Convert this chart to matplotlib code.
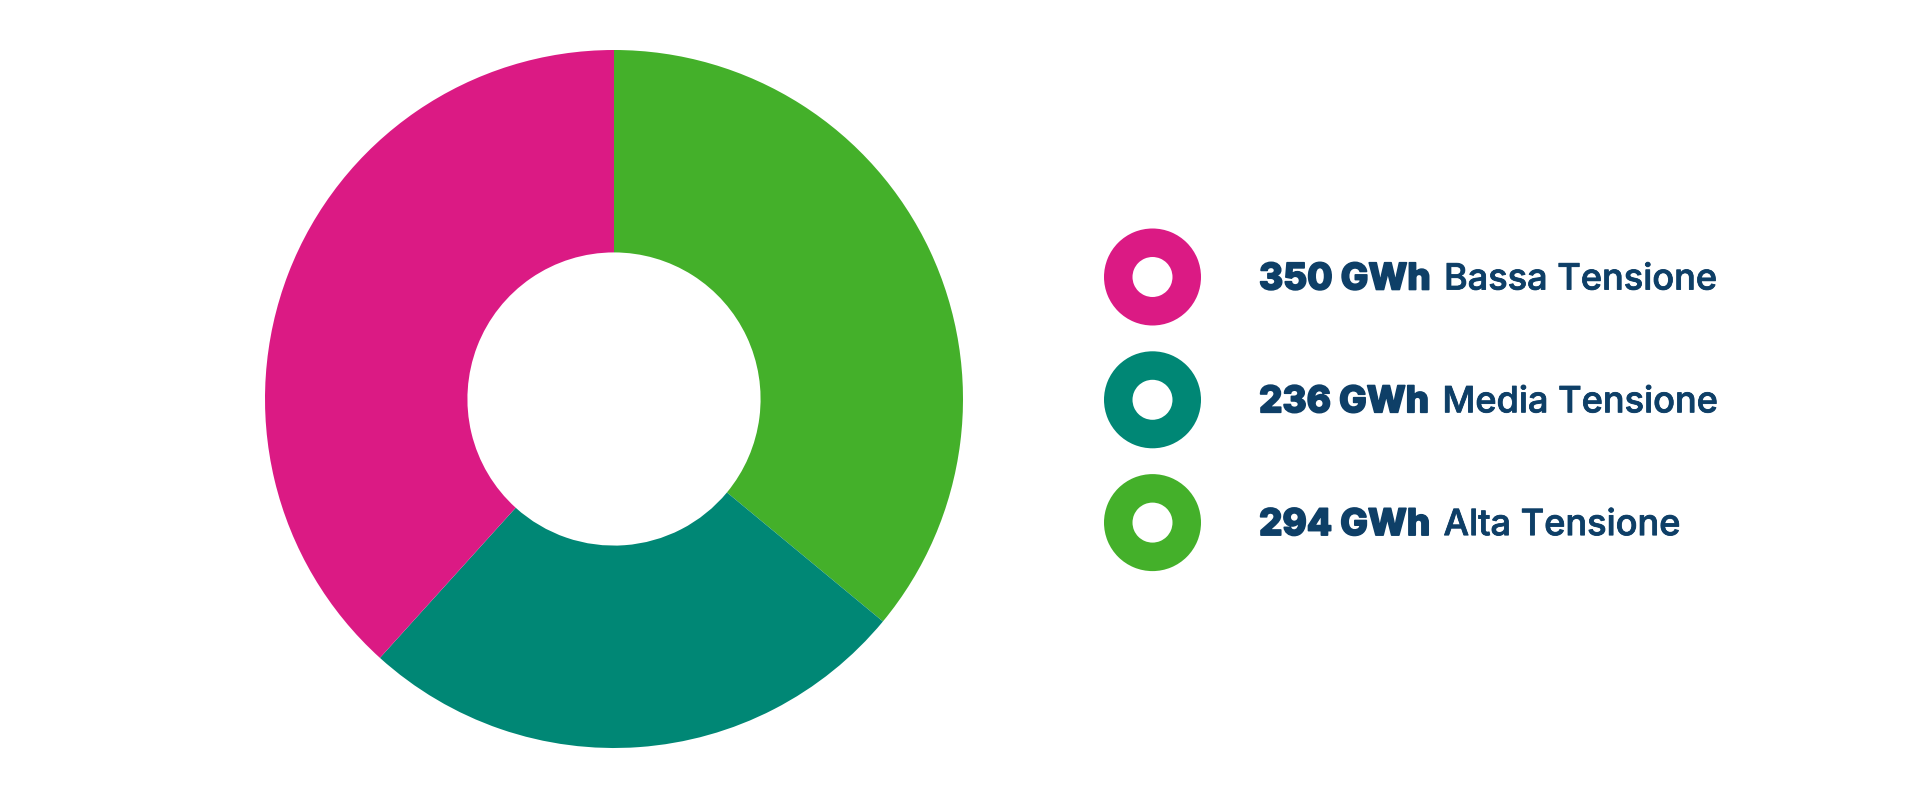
import matplotlib.pyplot as plt
import matplotlib.patheffects as pe
from matplotlib.patches import Annulus

# slice shares as drawn in the picture (percent), clockwise from top
labels = ['Alta Tensione', 'Media Tensione', 'Bassa Tensione']
shares = [36.0, 25.7, 38.3]
colors = ['#44b02a', '#008775', '#db1a84']

# legend rows, top to bottom
legend_values = ['350', '236', '294']
legend_labels = ['Bassa Tensione', 'Media Tensione', 'Alta Tensione']
legend_colors = ['#db1a84', '#008775', '#44b02a']

navy = '#0e3f67'
W, H = 1921, 801

fig = plt.figure(figsize=(W / 100, H / 100), dpi=100)

# donut
cx, cy, r = 614, 399, 349
ax = fig.add_axes([(cx - r) / W, (H - cy - r) / H, 2 * r / W, 2 * r / H])
ax.pie(shares, colors=colors, startangle=90, counterclock=False, radius=1,
       wedgeprops=dict(width=0.58, linewidth=0))
ax.set_xlim(-1, 1)
ax.set_ylim(-1, 1)
ax.axis('off')

# legend in pixel coordinates
lax = fig.add_axes([0, 0, 1, 1])
lax.set_xlim(0, W)
lax.set_ylim(H, 0)
lax.set_aspect('equal')
lax.axis('off')

fig.canvas.draw()
renderer = fig.canvas.get_renderer()

for i, (val, lab, col) in enumerate(zip(legend_values, legend_labels, legend_colors)):
    y = 277 + 122.8 * i
    lax.add_patch(Annulus((1152.5, y), 48.5, 28.5, color=col, linewidth=0))
    t = lax.text(1259, y + 12.5, val + ' GWh', fontsize=26.5, fontweight=800,
                 family='Inter', color=navy, va='baseline', ha='left',
                 path_effects=[pe.withStroke(linewidth=1.2, foreground=navy)])
    bb = t.get_window_extent(renderer=renderer)
    lax.text(bb.x1 + 13, y + 12.5, lab, fontsize=26, fontweight=500,
             family='Inter', color=navy, va='baseline', ha='left',
             path_effects=[pe.withStroke(linewidth=0.6, foreground=navy)])

fig.savefig('out.png', dpi=100, facecolor='white')
